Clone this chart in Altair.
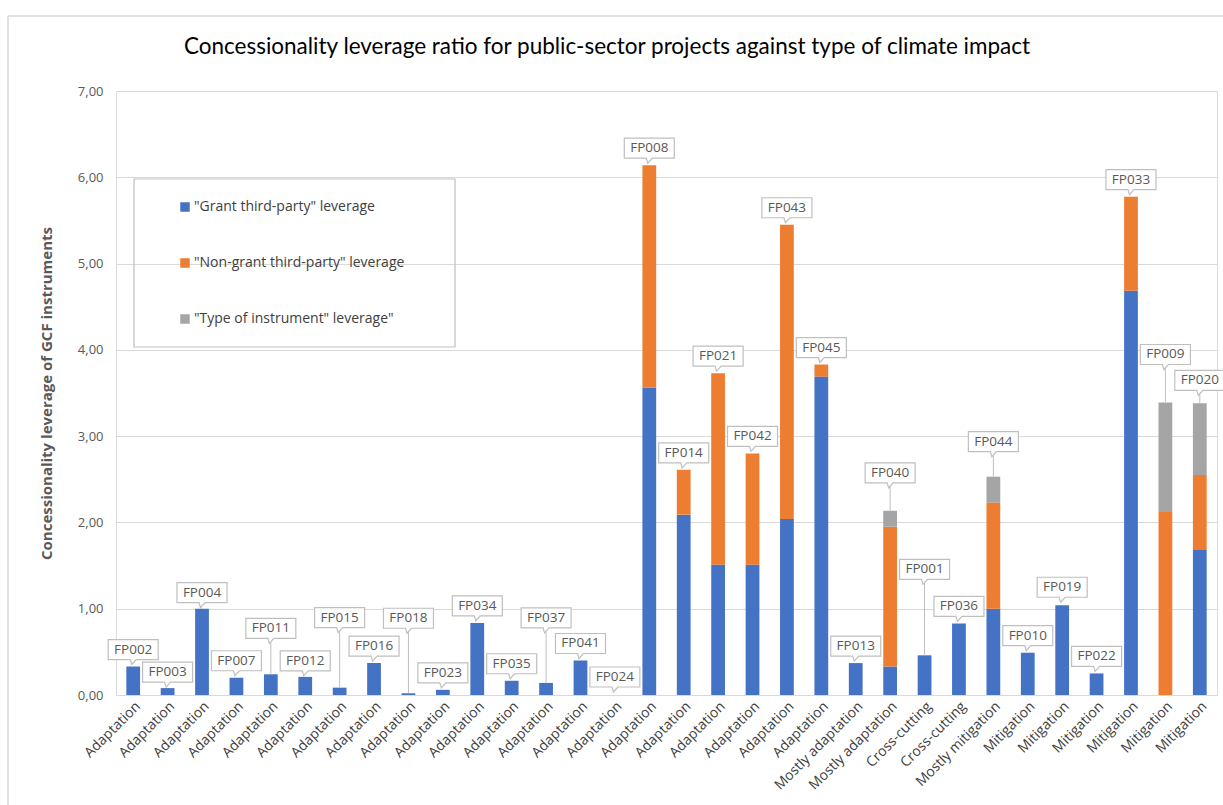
import altair as alt
import pandas as pd

# ---------------- data ----------------
codes = ["FP002", "FP003", "FP004", "FP007", "FP011", "FP012", "FP015", "FP016",
         "FP018", "FP023", "FP034", "FP035", "FP037", "FP041", "FP024", "FP008",
         "FP014", "FP021", "FP042", "FP043", "FP045", "FP013", "FP040", "FP001",
         "FP036", "FP044", "FP010", "FP019", "FP022", "FP033", "FP009", "FP020"]
impact = ["Adaptation", "Adaptation", "Adaptation", "Adaptation", "Adaptation",
          "Adaptation", "Adaptation", "Adaptation", "Adaptation", "Adaptation",
          "Adaptation", "Adaptation", "Adaptation", "Adaptation", "Adaptation",
          "Adaptation", "Adaptation", "Adaptation", "Adaptation", "Adaptation",
          "Adaptation", "Mostly adaptation", "Mostly adaptation", "Cross-cutting",
          "Cross-cutting", "Mostly mitigation", "Mitigation", "Mitigation",
          "Mitigation", "Mitigation", "Mitigation", "Mitigation"]
grant = [0.33, 0.08, 1.00, 0.20, 0.24, 0.21, 0.085, 0.37, 0.02, 0.06, 0.835, 0.165,
         0.14, 0.40, 0.00, 3.56, 2.09, 1.51, 1.51, 2.04, 3.69, 0.37, 0.33, 0.46,
         0.83, 1.00, 0.49, 1.04, 0.25, 4.685, 0.00, 1.68]
non_grant = [0, 0, 0, 0, 0, 0, 0, 0, 0, 0, 0, 0, 0, 0, 0, 2.58, 0.52, 2.22, 1.29,
             3.41, 0.14, 0, 1.62, 0, 0, 1.23, 0, 0, 0, 1.09, 2.12, 0.87]
instrument = [0, 0, 0, 0, 0, 0, 0, 0, 0, 0, 0, 0, 0, 0, 0, 0, 0, 0, 0, 0, 0, 0,
              0.185, 0, 0, 0.30, 0, 0, 0, 0, 1.27, 0.83]
series = ['"Grant third-party" leverage', '"Non-grant third-party" leverage',
          '"Type of instrument" leverage"']
colors = ["#4472C4", "#ED7D31", "#A5A5A5"]
y_ticks = [0, 1, 2, 3, 4, 5, 6, 7]
title_text = "Concessionality  leverage ratio for public-sector  projects against type of climate impact"
y_title = "Concessionality leverage of GCF instruments"

# callout lift above bar top (pixels) - annotation layout
callout_lift = [17, 16, 16, 17, 46, 16, 70, 17, 75, 17, 17, 17, 65, 17, 18, 17,
                17, 17, 17, 17, 17, 17, 38, 86, 17, 35, 17, 18, 17, 17, 48, 23]

# ---------------- layout ----------------
W, H = 1101, 604
LEFT, TOP = 116, 91
YMAX = 7
PX = H / YMAX

n = len(codes)
rows = []
for i in range(n):
    for s, vals in enumerate([grant, non_grant, instrument]):
        rows.append({"idx": i, "code": codes[i], "series": series[s], "sidx": s,
                     "value": vals[i]})
long_df = pd.DataFrame(rows)

tot = [grant[i] + non_grant[i] + instrument[i] for i in range(n)]
lab_df = pd.DataFrame({
    "idx": list(range(n)),
    "code": codes,
    "total": tot,
    "label_y": [tot[i] + callout_lift[i] / PX for i in range(n)],
    "box_bottom": [tot[i] + (callout_lift[i] - 10) / PX for i in range(n)],
    "long": [callout_lift[i] > 22 for i in range(n)],
})

label_array = "[" + ",".join("'" + s + "'" for s in impact) + "]"

FONT = "Open Sans"

x_enc = alt.X("idx:O", scale=alt.Scale(paddingInner=0.6, paddingOuter=0.3),
              axis=alt.Axis(title=None, labelExpr=label_array + "[datum.value]",
                            labelAngle=-45, labelFontSize=14, labelColor="#404040",
                            labelFont=FONT, ticks=False, labelPadding=4,
                            domainColor="#d9d9d9", labelOverlap=False,
                            labelBound=False, grid=False))
y_scale = alt.Scale(domain=[0, YMAX], nice=False)

bars = alt.Chart(long_df).mark_bar().encode(
    x=x_enc,
    y=alt.Y("value:Q", stack="zero", scale=y_scale,
            axis=alt.Axis(values=y_ticks, title=y_title,
                          labelExpr="replace(format(datum.value, '.2f'), '.', ',')",
                          labelFontSize=13, labelColor="#595959", labelFont=FONT,
                          ticks=False, domain=False, labelPadding=13,
                          gridColor="#d9d9d9", gridWidth=1,
                          titleFont=FONT, titleFontSize=15, titleFontWeight="bold",
                          titleColor="#595959", titleX=-70, titleY=H / 2,
                          titleAlign="center", titleBaseline="middle", titleAngle=-90)),
    color=alt.Color("series:N", scale=alt.Scale(domain=series, range=colors),
                    legend=alt.Legend(title=None, orient="none", legendX=62, legendY=109,
                                      direction="vertical", symbolType="square",
                                      symbolSize=90, symbolStrokeWidth=0,
                                      labelFontSize=14, labelFont=FONT,
                                      labelColor="#404040", rowPadding=42,
                                      labelOffset=2, padding=0, labelLimit=400)),
    order=alt.Order("sidx:Q"),
)

leaders = alt.Chart(lab_df).transform_filter("datum.long").mark_rule(
    color="#bfbfbf", strokeWidth=1).encode(
    x=alt.X("idx:O"),
    y=alt.Y("total:Q", scale=y_scale),
    y2="box_bottom:Q",
)

box_path = ("M-1,-0.4 L1,-0.4 L1,0.4 L0.12,0.4 L-0.06,0.6 L-0.12,0.4 L-1,0.4 Z")
boxes = alt.Chart(lab_df).mark_point(
    shape=box_path, size=2500, filled=True, fill="white", stroke="#bfbfbf",
    strokeWidth=1.2, opacity=1).encode(
    x=alt.X("idx:O"),
    y=alt.Y("label_y:Q", scale=y_scale),
)

texts = alt.Chart(lab_df).mark_text(
    font=FONT, fontSize=13.5, color="#595959", baseline="middle", align="center").encode(
    x=alt.X("idx:O"),
    y=alt.Y("label_y:Q", scale=y_scale),
    text="code:N",
)

one = pd.DataFrame({"k": [0]})
legend_box = alt.Chart(one).mark_rect(fill="transparent", stroke="#bfbfbf",
                                      strokeWidth=1.2).encode(
    x=alt.value(18), x2=alt.value(339), y=alt.value(88), y2=alt.value(256))

border_v = alt.Chart(one).mark_rule(color="#d9d9d9", strokeWidth=1.5).encode(
    x=alt.value(8 - LEFT), y=alt.value(16 - TOP), y2=alt.value(805 - TOP + 20))
border_h = alt.Chart(one).mark_rule(color="#d9d9d9", strokeWidth=1.5).encode(
    x=alt.value(8 - LEFT), x2=alt.value(1223 - LEFT + 20), y=alt.value(16 - TOP))

title_mark = alt.Chart(pd.DataFrame({"t": [title_text]})).mark_text(
    font="Lato", fontSize=22.5, color="#000000", align="center", baseline="middle").encode(
    x=alt.value(607 - LEFT), y=alt.value(47 - TOP), text="t:N")

chart = alt.layer(border_v, border_h, legend_box, bars, leaders, boxes, texts,
                  title_mark).properties(
    width=W, height=H,
    autosize=alt.AutoSizeParams(type="none"),
    padding={"left": LEFT, "top": TOP, "right": 6, "bottom": 110},
).configure_view(stroke=None).configure(background="white")

chart.save("out.html", embed_options={"renderer": "svg", "actions": False})
